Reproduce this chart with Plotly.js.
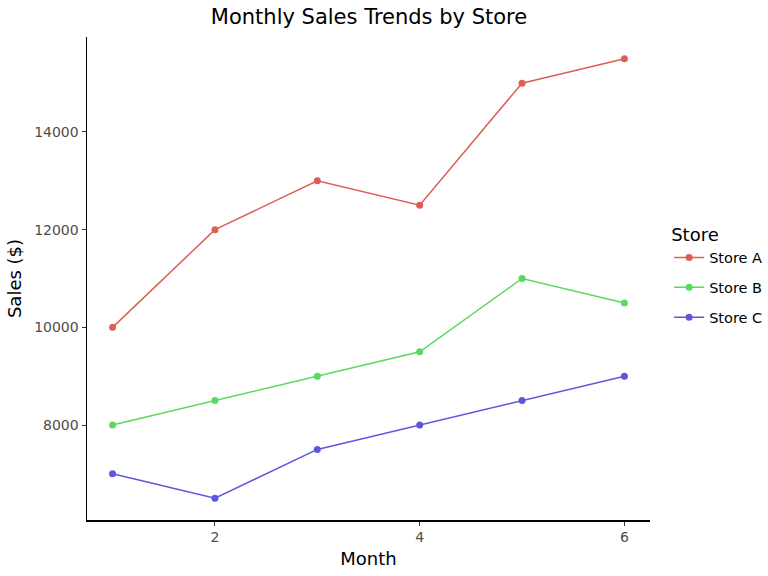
<!DOCTYPE html>
<html>
<head>
<meta charset="utf-8">
<script src="https://cdn.plot.ly/plotly-3.0.1.min.js"></script>
<style>html,body{margin:0;padding:0;background:#fff;}</style>
</head>
<body>
<div id="chart" style="width:768px;height:576px;"></div>
<script>
const months = [1, 2, 3, 4, 5, 6];
const storeNames = ["Store A", "Store B", "Store C"];
const storeA = [10000, 12000, 13000, 12500, 15000, 15500];
const storeB = [8000, 8500, 9000, 9500, 11000, 10500];
const storeC = [7000, 6500, 7500, 8000, 8500, 9000];
const xTicks = [2, 4, 6];
const yTicks = [8000, 10000, 12000, 14000];
const colors = ["#db5f57", "#57db5f", "#5f57db"];
const series = [storeA, storeB, storeC];

const traces = series.map((vals, i) => ({
  x: months, y: vals, name: storeNames[i], legendgroup: storeNames[i],
  type: "scatter", mode: "lines+markers",
  line: {color: colors[i], width: 1.5},
  marker: {color: colors[i], size: 7}
}));

const font = "DejaVu Sans, sans-serif";
const layout = {
  width: 768, height: 576,
  paper_bgcolor: "#fff", plot_bgcolor: "#fff",
  margin: {l: 87, r: 118, t: 37, b: 56, pad: 0, autoexpand: false},
  font: {family: font},
  title: {text: "Monthly Sales Trends by Store", font: {family: font, size: 21, color: "#000"},
          x: 369 / 768, xanchor: "center", y: 1 - 17 / 576, yanchor: "middle"},
  xaxis: {
    range: [0.75, 6.25], tickvals: xTicks, ticktext: xTicks.map(String),
    showgrid: false, zeroline: false, showline: true, linecolor: "#000", linewidth: 1.5,
    ticks: "outside", ticklen: 4, tickwidth: 1, tickcolor: "#333",
    tickfont: {family: font, size: 14, color: "#4d4d4d"},
    title: {text: "Month", font: {family: font, size: 18, color: "#000"}, standoff: 8}
  },
  yaxis: {
    range: [6055, 15945], tickvals: yTicks, ticktext: yTicks.map(String),
    showgrid: false, zeroline: false, showline: true, linecolor: "#000", linewidth: 1.5,
    ticks: "outside", ticklen: 4, tickwidth: 1, tickcolor: "#333",
    tickfont: {family: font, size: 14, color: "#4d4d4d"},
    title: {text: "Sales ($)", font: {family: font, size: 18, color: "#000"}, standoff: 8}
  },
  legend: {
    x: 1.034, xanchor: "left", y: 0.506, yanchor: "middle",
    title: {text: "Store", font: {family: font, size: 18, color: "#000"}},
    font: {family: font, size: 14.5, color: "#000"},
    tracegroupgap: 8, itemwidth: 30
  },
  showlegend: true
};

Plotly.newPlot("chart", traces, layout, {displayModeBar: false, staticPlot: true});
</script>
</body>
</html>
